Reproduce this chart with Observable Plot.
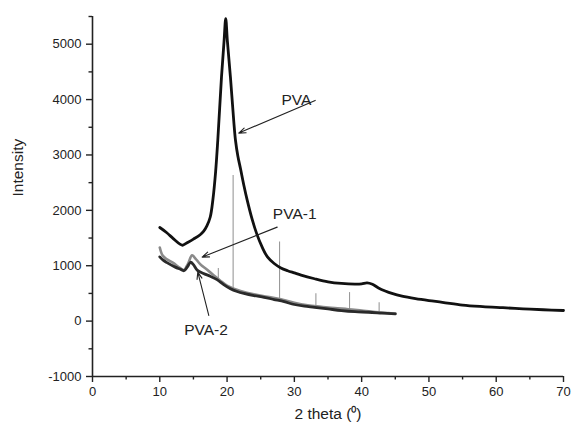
<!DOCTYPE html>
<html>
<head>
<meta charset="utf-8">
<script src="https://cdn.jsdelivr.net/npm/d3@7"></script>
<script src="https://cdn.jsdelivr.net/npm/@observablehq/plot@0.6"></script>
<style>
  body { margin: 0; background: #fff; }
  #chart svg { display: block; }
</style>
</head>
<body>
<div id="chart"></div>
<script>
// ---- data ----
const pvaX = [10, 11, 12, 13, 13.4, 14, 15, 16, 16.5, 17, 17.5, 17.9, 18.3, 18.62, 19.17, 19.55, 19.8, 20.05, 20.5, 21.0, 21.25, 21.6, 22.0, 22.5, 23.0, 23.7, 24.4, 25.2, 26, 27, 28, 29, 30, 31, 33, 35, 37, 39, 40, 40.8, 41.6, 42.5, 43.5, 44.5, 46, 48, 50, 52, 55, 58, 61, 64, 67, 70];
const pvaY = [1690, 1600, 1490, 1390, 1370, 1410, 1480, 1560, 1620, 1720, 1880, 2200, 2700, 3265, 4405, 5050, 5460, 5050, 4405, 3600, 3265, 2980, 2750, 2450, 2180, 1850, 1580, 1340, 1160, 1040, 960, 910, 870, 830, 765, 710, 680, 668, 672, 690, 665, 600, 545, 500, 450, 405, 370, 340, 290, 262, 242, 222, 205, 192];

const pva1X = [10, 10.4, 11, 12, 13, 13.6, 14.2, 14.8, 15.3, 16, 17, 18, 19, 20, 21, 22, 24, 26, 28, 30, 32, 34, 36, 38, 40, 42, 44, 45];
const pva1Y = [1330, 1190, 1120, 1050, 960, 925, 1040, 1190, 1130, 1030, 930, 830, 730, 640, 585, 545, 485, 440, 395, 330, 285, 260, 235, 215, 190, 165, 145, 135];

const pva2X = [10, 10.5, 11, 12.3, 13, 13.6, 14.1, 14.6, 15.0, 15.6, 16.5, 17.5, 18.5, 19.5, 20.5, 21.5, 22.5, 24, 25.5, 27, 28.5, 30, 31.5, 33, 35, 37, 39, 41, 43, 45];
const pva2Y = [1160, 1100, 1060, 975, 940, 910, 980, 1065, 1020, 916, 860, 810, 750, 660, 585, 535, 500, 460, 430, 390, 350, 300, 270, 250, 220, 190, 170, 160, 145, 130];

// sharp peaks on PVA-1
const spikeX = [18.7, 20.9, 27.8, 33.2, 38.2, 42.6];
const spikeBase = [760, 590, 400, 265, 210, 165];
const spikeTop = [950, 2630, 1430, 495, 515, 330];

const xTicks = [0, 10, 20, 30, 40, 50, 60, 70];
const xMinor = [5, 15, 25, 35, 45, 55, 65];
const yTicks = [-1000, 0, 1000, 2000, 3000, 4000, 5000];
const yMinor = [-500, 500, 1500, 2500, 3500, 4500, 5500];

const labels = ["PVA", "PVA-1", "PVA-2"];
const labelX = [30.3, 30.05, 16.87];
const labelY = [3985, 1927, -168];
const arrowX1 = [33.1, 27.45, 17.28];
const arrowY1 = [3985, 1697, 103];
const arrowX2 = [21.74, 16.30, 15.65];
const arrowY2 = [3395, 1156, 885];

// ---- build tables ----
const pva = pvaX.map((x, i) => ({x, y: pvaY[i]}));
const pva1 = pva1X.map((x, i) => ({x, y: pva1Y[i]}));
const pva2 = pva2X.map((x, i) => ({x, y: pva2Y[i]}));
const spikes = spikeX.map((x, i) => ({x, y1: spikeBase[i], y2: spikeTop[i]}));
const notes = labels.map((t, i) => ({t, x: labelX[i], y: labelY[i], x1: arrowX1[i], y1: arrowY1[i], x2: arrowX2[i], y2: arrowY2[i]}));

const font = "'Liberation Sans', Arial, Helvetica, sans-serif";
const ink = "#222";
const fmt = d => String(d);

const chart = Plot.plot({
  width: 573,
  height: 432,
  marginLeft: 92,
  marginRight: 10,
  marginTop: 16,
  marginBottom: 56,
  style: {fontFamily: font, fontSize: "13px", color: ink, background: "#fff"},
  x: {domain: [0, 70]},
  y: {domain: [-1000, 5500]},
  marks: [
    Plot.axisX(xTicks, {tickSize: 6, tickPadding: 4, strokeWidth: 1.4, label: null, fontSize: 13, tickFormat: fmt}),
    Plot.axisX(xMinor, {tickSize: 3.5, text: null, strokeWidth: 1.4, label: null}),
    Plot.axisY(yTicks, {tickSize: 6, tickPadding: 5, strokeWidth: 1.4, label: null, fontSize: 13, tickFormat: fmt}),
    Plot.axisY(yMinor, {tickSize: 3.5, text: null, strokeWidth: 1.4, label: null}),
    Plot.ruleX([0], {stroke: ink, strokeWidth: 1.6}),
    Plot.ruleY([-1000], {stroke: ink, strokeWidth: 1.6}),
    Plot.ruleX(spikes, {x: "x", y1: "y1", y2: "y2", stroke: "#999", strokeWidth: 1.1}),
    Plot.line(pva1, {x: "x", y: "y", stroke: "#8a8a8a", strokeWidth: 2.6, curve: "catmull-rom"}),
    Plot.line(pva2, {x: "x", y: "y", stroke: "#2a2a2a", strokeWidth: 2.8, curve: "catmull-rom"}),
    Plot.line(pva, {x: "x", y: "y", stroke: "#111", strokeWidth: 2.8, curve: "catmull-rom"}),
    Plot.text(notes, {x: "x", y: "y", text: "t", fontSize: 15.5, fill: ink, lineAnchor: "middle"}),
    Plot.arrow(notes, {x1: "x1", y1: "y1", x2: "x2", y2: "y2", stroke: ink, strokeWidth: 1.1, headLength: 10, headAngle: 40}),
    Plot.text(["Intensity"], {frameAnchor: "left", dx: -74, rotate: -90, fontSize: 15.5, fill: ink}),
    Plot.text(["2 theta (\u2070)"], {frameAnchor: "bottom", dy: 38, lineAnchor: "middle", fontSize: 15.5, fill: ink})
  ]
});
document.getElementById("chart").appendChild(chart);
</script>
</body>
</html>
